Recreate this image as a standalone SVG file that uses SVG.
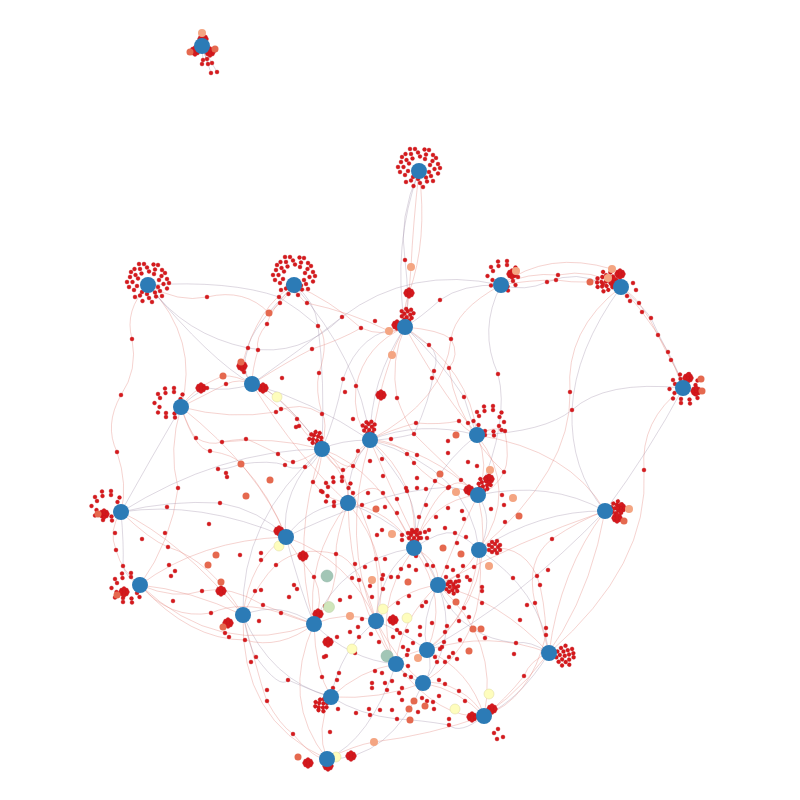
<svg xmlns="http://www.w3.org/2000/svg" xmlns:xlink="http://www.w3.org/1999/xlink" width="800" height="800" viewBox="0 0 800 800">
<style>
.e{fill:none;stroke:#e68e86;stroke-width:.65;opacity:.6}
.p{fill:none;stroke:#9a88a4;stroke-width:.65;opacity:.5}
.r circle,circle.r{fill:#d7191c;stroke:#b8161a;stroke-width:.3}
.h{fill:#2c7bb6}
.o1{fill:#e5694f}
.o2{fill:#f4a582}
.y{fill:#fefdbd;stroke:#dcd89c;stroke-width:.5}
.g1{fill:#cfe5bb;stroke:#b9cfa6;stroke-width:.5}
.g2{fill:#a2c6b6;stroke:#8fb3a3;stroke-width:.5}
</style>
<defs>
<g id="ring" class="r">
<circle cx="10" cy="4" r="2"/><circle cx="7" cy="9.5" r="2"/><circle cx="-1" cy="11" r="2"/><circle cx="-6" cy="9" r="2"/><circle cx="-11" cy="3" r="2"/><circle cx="-10" cy="-4.5" r="2"/><circle cx="-6.5" cy="-9.5" r="2"/><circle cx="1" cy="-11.5" r="2"/><circle cx="6" cy="-9" r="2"/><circle cx="11" cy="-3" r="2"/>
<circle cx="15.5" cy="1" r="2"/><circle cx="12" cy="8" r="2"/><circle cx="8" cy="13.5" r="2"/><circle cx="1" cy="15" r="2"/><circle cx="-8" cy="12.5" r="2"/><circle cx="-14" cy="7" r="2"/><circle cx="-15.5" cy="-1" r="2"/><circle cx="-12.5" cy="-8" r="2"/><circle cx="-8" cy="-14" r="2"/><circle cx="-1" cy="-15.5" r="2"/><circle cx="7" cy="-13.5" r="2"/><circle cx="13.5" cy="-7" r="2"/>
<circle cx="19" cy="5.5" r="2"/><circle cx="14" cy="13" r="2"/><circle cx="4" cy="19" r="2"/><circle cx="-5.5" cy="18" r="2"/><circle cx="-13" cy="14" r="2"/><circle cx="-19" cy="4" r="2"/><circle cx="-18" cy="-6" r="2"/><circle cx="-13.5" cy="-14" r="2"/><circle cx="-4" cy="-19" r="2"/><circle cx="5.5" cy="-18.5" r="2"/><circle cx="14" cy="-13" r="2"/><circle cx="19" cy="-4" r="2"/>
<circle cx="-9" cy="-19" r="2"/><circle cx="10" cy="-18" r="2"/><circle cx="-21" cy="-1" r="2"/><circle cx="21" cy="0" r="2"/><circle cx="-17" cy="-11" r="2"/><circle cx="17" cy="-10" r="2"/>
</g>
<g id="rs" class="r">
<circle cx="10" cy="5" r="2"/><circle cx="4.5" cy="10.5" r="2"/><circle cx="-4" cy="10" r="2"/><circle cx="-10.5" cy="4" r="2"/><circle cx="-10" cy="-5" r="2"/><circle cx="-4.5" cy="-10" r="2"/><circle cx="4" cy="-11" r="2"/><circle cx="10.5" cy="-4" r="2"/>
<circle cx="15" cy="1" r="2"/><circle cx="12.5" cy="9" r="2"/><circle cx="5" cy="14.5" r="2"/><circle cx="-4" cy="14" r="2"/><circle cx="-12" cy="9.5" r="2"/><circle cx="-15.5" cy="0" r="2"/><circle cx="-12" cy="-9" r="2"/><circle cx="-5" cy="-14.5" r="2"/><circle cx="4" cy="-15" r="2"/><circle cx="12.5" cy="-8.5" r="2"/>
</g>
<g id="fan" class="r">
<circle cx="8" cy="-3" r="2"/><circle cx="8" cy="3" r="2"/><circle cx="11" cy="-7" r="2"/><circle cx="11" cy="0" r="2"/><circle cx="11" cy="7" r="2"/><circle cx="14" cy="-4" r="2"/><circle cx="14" cy="4" r="2"/><circle cx="15" cy="-10" r="2"/><circle cx="16" cy="0" r="2"/><circle cx="15" cy="10" r="2"/><circle cx="18" cy="-6" r="2"/><circle cx="18" cy="6" r="2"/><circle cx="20" cy="-2" r="2"/><circle cx="21" cy="3" r="2"/><circle cx="22" cy="-8" r="2"/><circle cx="22" cy="8" r="2"/><circle cx="25" cy="0" r="2"/><circle cx="24" cy="-4" r="2"/>
</g>
<g id="fs" class="r">
<circle cx="7" cy="-2" r="2"/><circle cx="7" cy="3" r="2"/><circle cx="10" cy="-5" r="2"/><circle cx="10" cy="0" r="2"/><circle cx="10" cy="5" r="2"/><circle cx="13" cy="-3" r="2"/><circle cx="13" cy="3" r="2"/><circle cx="15" cy="-6" r="2"/><circle cx="16" cy="0" r="2"/><circle cx="15" cy="6" r="2"/><circle cx="18" cy="-2" r="2"/><circle cx="18" cy="3" r="2"/>
</g>
<g id="blob" class="r">
<circle cx="0" cy="0" r="2"/><circle cx="-2.5" cy="-2" r="2"/><circle cx="2.5" cy="-2" r="2"/><circle cx="-2.5" cy="2" r="2"/><circle cx="2.5" cy="2" r="2"/><circle cx="0" cy="-3.5" r="2"/><circle cx="0" cy="3.5" r="2"/><circle cx="-3.5" cy="0" r="2"/><circle cx="3.5" cy="0" r="2"/>
</g>
</defs>
<rect width="800" height="800" fill="#ffffff"/>
<g id="connectors">
<path class="p" d="M202 46L203 60M202 46L208 64M202 46L211 73M202 46L217 72"/>
<path class="p" d="M419 171Q398 218 405 260Q410 300 405 327"/>
<path class="e" d="M419 171Q413 225 411 267Q409 300 405 327"/>
<path class="e" d="M419 171Q428 240 409 293Q402 312 405 327"/>
<path class="p" d="M419 171Q392 245 405 327"/>
<path class="e" d="M148 285Q124 310 132 339Q138 370 121 395Q104 425 117 452Q128 485 121 512"/>
<path class="e" d="M121 512Q108 530 116 550Q122 572 140 585"/>
<path class="p" d="M121 512Q124 545 123 566Q126 578 140 585"/>
<path class="e" d="M148 285Q178 303 207 297Q245 288 269 313Q285 300 294 285"/>
<path class="p" d="M148 285Q185 335 248 348Q300 358 342 317"/>
<path class="e" d="M294 285Q270 310 267 324Q255 338 258 350Q252 370 252 384"/>
<path class="p" d="M294 285Q315 300 318 326Q325 380 322 449"/>
<path class="e" d="M294 285Q330 300 361 328Q383 338 405 327"/>
<path class="e" d="M294 285Q300 300 307 303Q350 312 389 331Q398 332 405 327"/>
<path class="e" d="M501 285Q528 272 558 275Q592 268 621 287"/>
<path class="p" d="M501 285Q525 292 547 282Q578 270 603 284Q612 288 621 287"/>
<path class="e" d="M501 285Q548 250 612 269Q620 276 621 287"/>
<path class="e" d="M501 285Q530 280 556 280Q588 285 608 278Q616 280 621 287"/>
<path class="e" d="M621 287Q634 296 639 303Q650 318 658 335Q665 350 671 360Q680 374 683 388"/>
<path class="p" d="M621 287Q644 308 651 318Q662 342 668 352Q679 372 683 388"/>
<path class="e" d="M621 287Q638 306 642 312Q668 345 683 388"/>
<path class="p" d="M501 285Q462 284 440 300Q420 318 405 327"/>
<path class="p" d="M501 285Q410 265 342 317Q300 350 252 384"/>
<path class="p" d="M501 285Q478 330 498 374Q510 420 478 495"/>
<path class="e" d="M621 287Q565 330 570 392Q572 470 479 550"/>
<path class="p" d="M683 388Q605 380 572 410Q545 432 477 435"/>
<path class="e" d="M683 388Q640 420 644 470Q650 565 549 653"/>
<path class="e" d="M252 384Q236 375 223 376Q208 382 200 388Q188 396 181 407"/>
<path class="p" d="M252 384Q228 392 207 388Q192 395 181 407"/>
<path class="e" d="M252 384Q240 378 226 384Q205 395 181 407"/>
<path class="e" d="M252 384Q265 388 277 397Q300 418 322 449"/>
<path class="p" d="M252 384Q258 386 263 387Q295 410 322 449"/>
<path class="e" d="M181 407Q190 432 196 438Q210 446 222 442Q272 436 322 449"/>
<path class="e" d="M181 407Q195 450 210 451Q235 455 241 464Q270 495 286 537"/>
<path class="p" d="M181 407Q150 460 121 512"/>
<path class="e" d="M181 407Q168 450 178 488Q172 540 140 585"/>
<path class="p" d="M294 285Q250 330 248 348Q240 370 252 384"/>
<path class="e" d="M294 285Q258 305 242 365Q245 375 252 384"/>
<path class="e" d="M405 327Q440 330 451 339Q460 355 449 368Q455 410 477 435"/>
<path class="p" d="M405 327Q420 340 429 345Q440 355 434 371Q430 400 414 434Q390 440 370 440"/>
<path class="e" d="M405 327Q395 345 392 355Q380 390 381 394Q376 420 370 440"/>
<path class="p" d="M405 327Q360 330 343 379Q335 420 322 449"/>
<path class="e" d="M405 327Q365 345 356 386Q352 420 370 440"/>
<path class="e" d="M405 327Q390 360 397 398Q405 420 414 434Q440 460 478 495"/>
<path class="p" d="M405 327Q440 360 464 397Q470 418 477 435"/>
<path class="e" d="M477 435Q495 425 505 431Q510 460 504 472Q495 490 478 495"/>
<path class="e" d="M477 435Q465 430 459 421Q440 425 416 423Q390 430 370 440"/>
<path class="p" d="M370 440Q340 440 322 449"/>
<path class="e" d="M370 440Q348 470 343 470Q330 465 322 449"/>
<path class="e" d="M322 449Q300 430 297 419Q285 405 281 409Q270 400 252 384"/>
<path class="e" d="M322 449Q328 420 322 414Q315 390 319 373Q330 340 318 326"/>
<path class="e" d="M322 449Q300 462 293 462Q285 463 278 454Q250 440 246 439Q230 440 222 442"/>
<path class="p" d="M322 449Q310 470 305 467Q290 470 285 465Q270 460 241 464Q225 470 218 469"/>
<path class="e" d="M322 449Q320 475 313 482Q318 488 321 491Q330 500 348 503"/>
<path class="e" d="M322 449Q345 470 353 466Q355 460 358 451Q365 445 370 440"/>
<path class="e" d="M370 440Q430 450 478 495"/>
<path class="p" d="M370 440Q345 470 348 503"/>
<path class="e" d="M370 440Q420 480 414 548"/>
<path class="p" d="M370 440Q470 470 479 550"/>
<path class="e" d="M370 440Q400 510 438 585"/>
<path class="e" d="M370 440Q340 540 376 621"/>
<path class="e" d="M322 449Q350 470 348 503"/>
<path class="p" d="M322 449Q280 490 286 537"/>
<path class="e" d="M322 449Q380 470 414 548"/>
<path class="e" d="M322 449Q290 540 314 624"/>
<path class="p" d="M322 449Q240 520 243 615"/>
<path class="e" d="M322 449Q390 530 376 621"/>
<path class="e" d="M478 495Q430 500 414 548"/>
<path class="p" d="M478 495Q495 520 479 550"/>
<path class="e" d="M478 495Q455 540 438 585"/>
<path class="p" d="M478 495Q550 480 605 511"/>
<path class="e" d="M478 495Q500 590 427 650"/>
<path class="e" d="M348 503Q390 510 414 548"/>
<path class="p" d="M348 503Q310 505 286 537"/>
<path class="e" d="M348 503Q395 560 376 621"/>
<path class="e" d="M348 503Q305 560 314 624"/>
<path class="p" d="M348 503Q420 530 438 585"/>
<path class="e" d="M348 503Q350 600 396 664"/>
<path class="p" d="M605 511Q540 510 479 550"/>
<path class="e" d="M605 511Q520 540 438 585"/>
<path class="e" d="M605 511Q560 570 549 653"/>
<path class="p" d="M605 511Q520 600 427 650"/>
<path class="e" d="M605 511Q580 650 484 716"/>
<path class="e" d="M286 537Q250 560 243 615"/>
<path class="p" d="M286 537Q300 590 314 624"/>
<path class="e" d="M286 537Q200 540 140 585"/>
<path class="p" d="M286 537Q200 500 121 512"/>
<path class="e" d="M286 537Q350 560 376 621"/>
<path class="e" d="M414 548Q440 560 438 585"/>
<path class="p" d="M414 548Q380 570 376 621"/>
<path class="e" d="M414 548Q450 600 427 650"/>
<path class="e" d="M414 548Q370 610 396 664"/>
<path class="p" d="M414 548Q340 560 314 624"/>
<path class="e" d="M479 550Q460 580 438 585"/>
<path class="p" d="M479 550Q540 590 549 653"/>
<path class="e" d="M479 550Q470 620 427 650"/>
<path class="e" d="M479 550Q490 640 423 683"/>
<path class="p" d="M438 585Q420 620 427 650"/>
<path class="e" d="M438 585Q400 590 376 621"/>
<path class="e" d="M438 585Q400 620 396 664"/>
<path class="p" d="M438 585Q460 640 423 683"/>
<path class="e" d="M438 585Q500 640 484 716"/>
<path class="e" d="M438 585Q500 600 549 653"/>
<path class="p" d="M243 615Q280 600 314 624"/>
<path class="e" d="M243 615Q190 590 140 585"/>
<path class="e" d="M243 615Q180 540 121 512"/>
<path class="p" d="M243 615Q270 680 331 697"/>
<path class="e" d="M243 615Q240 720 327 759"/>
<path class="e" d="M243 615Q262 690 267 701Q280 725 293 734Q315 760 327 759"/>
<path class="e" d="M314 624Q345 610 376 621"/>
<path class="p" d="M314 624Q350 660 396 664"/>
<path class="e" d="M314 624Q315 670 331 697"/>
<path class="e" d="M314 624Q280 700 327 759"/>
<path class="p" d="M376 621Q400 630 427 650"/>
<path class="e" d="M376 621Q385 645 396 664"/>
<path class="e" d="M376 621Q400 665 423 683"/>
<path class="p" d="M376 621Q340 650 331 697"/>
<path class="e" d="M427 650Q410 650 396 664"/>
<path class="p" d="M427 650Q435 670 423 683"/>
<path class="e" d="M427 650Q490 630 549 653"/>
<path class="e" d="M427 650Q470 670 484 716"/>
<path class="p" d="M396 664Q410 680 423 683"/>
<path class="e" d="M396 664Q360 670 331 697"/>
<path class="e" d="M396 664Q440 720 484 716"/>
<path class="p" d="M396 664Q370 740 327 759"/>
<path class="e" d="M423 683Q460 690 484 716"/>
<path class="e" d="M423 683Q380 700 331 697"/>
<path class="p" d="M423 683Q390 760 327 759"/>
<path class="e" d="M331 697Q315 730 327 759"/>
<path class="p" d="M549 653Q520 700 484 716"/>
<path class="e" d="M140 585Q220 660 314 624"/>
<path class="p" d="M121 512Q220 450 322 449"/>
<path class="e" d="M181 407Q260 470 286 537"/>
<path class="p" d="M252 384Q310 400 370 440"/>
<path class="e" d="M252 384Q300 460 348 503"/>
<path class="p" d="M405 327Q370 380 370 440"/>
<path class="e" d="M405 327Q470 370 477 435"/>
<path class="p" d="M477 435Q420 420 370 440"/>
<path class="e" d="M477 435Q490 465 478 495"/>
<path class="e" d="M477 435Q520 490 479 550"/>
<path class="p" d="M477 435Q420 480 414 548"/>
<path class="e" d="M477 435Q570 450 605 511"/>
<path class="p" d="M294 285Q360 360 370 440"/>
<path class="e" d="M148 285Q200 340 181 407"/>
<path class="p" d="M148 285Q210 360 252 384"/>
<path class="e" d="M501 285Q455 310 451 339Q445 400 370 440"/>
<path class="p" d="M621 287Q575 350 572 410Q570 470 605 511"/>
<path class="p" d="M683 388Q650 450 605 511"/>
<path class="e" d="M327 759Q355 745 374 742Q430 735 484 716"/>
<path class="e" d="M121 512Q150 540 168 547Q210 560 243 615"/>
<path class="p" d="M121 512Q170 500 220 503Q260 510 286 537"/>
<path class="e" d="M140 585Q175 600 202 591Q230 585 263 605Q290 615 314 624"/>
<path class="e" d="M140 585Q170 620 211 613Q240 600 281 613Q300 620 314 624"/>
<path class="p" d="M243 615Q250 650 256 657Q280 690 288 680Q310 690 331 697"/>
<path class="e" d="M484 716Q530 700 546 635Q545 600 537 576Q520 540 479 550"/>
<path class="e" d="M549 653Q540 620 535 603Q525 560 552 539Q580 520 605 511"/>
<path class="p" d="M484 716Q460 735 449 725Q420 720 397 719Q360 715 331 697"/>
<path class="e" d="M484 716Q475 700 459 691Q440 680 423 683"/>
<path class="e" d="M549 653Q530 660 524 676Q505 700 484 716"/>
<path class="p" d="M549 653Q530 640 516 643Q490 640 473 629Q450 615 438 585"/>
<path class="e" d="M286 537Q300 560 314 577Q325 600 314 624"/>
<path class="e" d="M348 503Q335 540 336 554Q340 590 314 624"/>
<path class="p" d="M414 548Q440 530 455 533Q470 540 479 550"/>
<path class="e" d="M414 548Q395 510 383 493Q370 480 348 503"/>
<path class="e" d="M478 495Q460 475 448 488Q430 500 414 548"/>
<path class="p" d="M370 440Q395 470 407 491Q420 520 414 548"/>
<path class="e" d="M140 585Q190 640 245 640Q280 650 314 624"/>
<path class="e" d="M243 615Q260 580 276 565Q300 545 336 554Q360 560 376 621"/>
<path class="p" d="M286 537Q320 520 362 505Q400 490 449 487Q470 490 478 495"/>
<path class="e" d="M181 407Q230 420 276 412Q300 400 322 414"/>
<path class="e" d="M252 384Q290 360 312 349Q340 340 361 328"/>
<path class="p" d="M148 285Q230 280 279 297Q300 310 318 326"/>
<path class="e" d="M405 327Q440 390 468 423Q480 450 504 472"/>
<path class="e" d="M370 440Q400 440 414 463Q430 480 448 488"/>
</g>
<g id="leaves">
<use href="#blob" x="203" y="39"/><use href="#blob" x="195" y="51"/><use href="#blob" x="210" y="52"/>
<g class="r"><circle cx="203" cy="60" r="2"/><circle cx="207" cy="59" r="2"/><circle cx="202" cy="64" r="2"/><circle cx="208" cy="64" r="2"/><circle cx="212" cy="63" r="2"/><circle cx="211" cy="73" r="2"/><circle cx="217" cy="72" r="2"/></g>
<use href="#ring" x="419" y="168"/>
<use href="#ring" x="148" y="283"/>
<use href="#ring" x="294" y="276"/>
<use href="#rs" x="503" y="276"/><use href="#blob" x="512" y="274"/>
<use href="#fan" transform="translate(621 287) rotate(200)"/><use href="#blob" x="614" y="282"/><use href="#blob" x="620" y="274"/>
<g class="r"><circle cx="633" cy="283" r="2"/><circle cx="636" cy="290" r="2"/><circle cx="627" cy="296" r="2"/><circle cx="630" cy="301" r="2"/></g>
<use href="#fs" transform="translate(405 327) rotate(-80)"/><use href="#blob" x="397" y="325"/>
<use href="#rs" x="685" y="389"/><use href="#blob" x="696" y="391"/><use href="#blob" x="688" y="378"/>
<use href="#blob" x="242" y="366"/><use href="#blob" x="263" y="388"/><use href="#blob" x="201" y="388"/>
<use href="#rs" x="170" y="403"/>
<use href="#rs" x="489" y="421"/>
<use href="#fs" transform="translate(370 440) rotate(-95)"/>
<use href="#fs" transform="translate(322 449) rotate(-120)"/>
<use href="#fs" transform="translate(478 495) rotate(-60)"/><use href="#blob" x="469" y="490"/>
<use href="#rs" x="338" y="492"/>
<use href="#fs" transform="translate(605 511) rotate(-15)"/><use href="#blob" x="621" y="508"/><use href="#blob" x="617" y="518"/>
<use href="#rs" x="107" y="506"/><use href="#blob" x="104" y="514"/>
<use href="#blob" x="279" y="531"/>
<use href="#fs" transform="translate(414 548) rotate(-90)"/>
<use href="#fs" transform="translate(482 547)"/>
<use href="#rs" x="127" y="588"/><use href="#blob" x="124" y="592"/>
<use href="#fs" transform="translate(440 585) rotate(10)"/>
<use href="#blob" x="228" y="623"/>
<use href="#blob" x="318" y="614"/>
<use href="#blob" x="393" y="620"/>
<use href="#fan" transform="translate(549 653) rotate(10)"/>
<use href="#fs" transform="translate(331 697) rotate(140)"/>
<use href="#blob" x="472" y="717"/><use href="#blob" x="492" y="709"/>
<use href="#blob" x="308" y="763"/><use href="#blob" x="328" y="766"/>
<use href="#blob" x="221" y="591"/><use href="#blob" x="303" y="556"/><use href="#blob" x="328" y="642"/><use href="#blob" x="409" y="293"/><use href="#blob" x="489" y="479"/><use href="#blob" x="351" y="756"/><use href="#blob" x="381" y="395"/>
</g>
<g id="nodes" class="r">
<circle cx="207" cy="297" r="2"/><circle cx="267" cy="324" r="2"/><circle cx="279" cy="297" r="2"/><circle cx="280" cy="303" r="2"/><circle cx="307" cy="303" r="2"/><circle cx="318" cy="326" r="2"/><circle cx="132" cy="339" r="2"/><circle cx="248" cy="348" r="2"/><circle cx="258" cy="350" r="2"/><circle cx="312" cy="349" r="2"/><circle cx="319" cy="373" r="2"/><circle cx="282" cy="378" r="2"/><circle cx="244" cy="372" r="2"/><circle cx="226" cy="384" r="2"/><circle cx="207" cy="388" r="2"/><circle cx="121" cy="395" r="2"/><circle cx="276" cy="412" r="2"/><circle cx="281" cy="409" r="2"/><circle cx="322" cy="414" r="2"/><circle cx="297" cy="419" r="2"/><circle cx="299" cy="426" r="2"/><circle cx="296" cy="427" r="2"/><circle cx="196" cy="438" r="2"/><circle cx="222" cy="442" r="2"/><circle cx="246" cy="439" r="2"/><circle cx="117" cy="452" r="2"/><circle cx="210" cy="451" r="2"/><circle cx="278" cy="454" r="2"/><circle cx="285" cy="465" r="2"/><circle cx="293" cy="462" r="2"/><circle cx="305" cy="467" r="2"/><circle cx="218" cy="469" r="2"/><circle cx="226" cy="473" r="2"/><circle cx="227" cy="477" r="2"/><circle cx="313" cy="482" r="2"/><circle cx="321" cy="491" r="2"/><circle cx="178" cy="488" r="2"/>
<circle cx="405" cy="260" r="2"/><circle cx="440" cy="300" r="2"/><circle cx="342" cy="317" r="2"/><circle cx="375" cy="321" r="2"/><circle cx="361" cy="328" r="2"/><circle cx="451" cy="339" r="2"/><circle cx="429" cy="345" r="2"/><circle cx="449" cy="368" r="2"/><circle cx="434" cy="371" r="2"/><circle cx="432" cy="378" r="2"/><circle cx="498" cy="374" r="2"/><circle cx="343" cy="379" r="2"/><circle cx="356" cy="386" r="2"/><circle cx="345" cy="392" r="2"/><circle cx="397" cy="398" r="2"/><circle cx="464" cy="397" r="2"/><circle cx="570" cy="392" r="2"/><circle cx="572" cy="410" r="2"/><circle cx="353" cy="419" r="2"/><circle cx="416" cy="423" r="2"/><circle cx="459" cy="421" r="2"/><circle cx="468" cy="423" r="2"/><circle cx="505" cy="431" r="2"/><circle cx="414" cy="434" r="2"/><circle cx="391" cy="439" r="2"/><circle cx="448" cy="441" r="2"/><circle cx="407" cy="454" r="2"/><circle cx="417" cy="455" r="2"/><circle cx="448" cy="453" r="2"/><circle cx="358" cy="451" r="2"/><circle cx="382" cy="459" r="2"/><circle cx="370" cy="461" r="2"/><circle cx="468" cy="462" r="2"/><circle cx="477" cy="466" r="2"/><circle cx="414" cy="463" r="2"/><circle cx="504" cy="472" r="2"/><circle cx="461" cy="480" r="2"/><circle cx="435" cy="481" r="2"/><circle cx="417" cy="478" r="2"/><circle cx="448" cy="488" r="2"/><circle cx="383" cy="476" r="2"/><circle cx="406" cy="488" r="2"/><circle cx="417" cy="488" r="2"/><circle cx="343" cy="470" r="2"/><circle cx="353" cy="466" r="2"/>
<circle cx="558" cy="275" r="2"/><circle cx="556" cy="280" r="2"/><circle cx="547" cy="282" r="2"/><circle cx="603" cy="284" r="2"/><circle cx="639" cy="303" r="2"/><circle cx="642" cy="312" r="2"/><circle cx="651" cy="318" r="2"/><circle cx="658" cy="335" r="2"/><circle cx="668" cy="352" r="2"/><circle cx="671" cy="360" r="2"/><circle cx="644" cy="470" r="2"/><circle cx="552" cy="539" r="2"/>
<circle cx="167" cy="507" r="2"/><circle cx="220" cy="503" r="2"/><circle cx="209" cy="524" r="2"/><circle cx="142" cy="539" r="2"/><circle cx="165" cy="533" r="2"/><circle cx="115" cy="533" r="2"/><circle cx="116" cy="550" r="2"/><circle cx="168" cy="547" r="2"/><circle cx="240" cy="555" r="2"/><circle cx="261" cy="560" r="2"/><circle cx="276" cy="565" r="2"/><circle cx="123" cy="566" r="2"/><circle cx="169" cy="565" r="2"/><circle cx="175" cy="571" r="2"/><circle cx="171" cy="576" r="2"/><circle cx="202" cy="591" r="2"/><circle cx="173" cy="601" r="2"/><circle cx="211" cy="613" r="2"/><circle cx="261" cy="553" r="2"/><circle cx="314" cy="577" r="2"/><circle cx="294" cy="585" r="2"/><circle cx="297" cy="589" r="2"/><circle cx="289" cy="597" r="2"/><circle cx="281" cy="613" r="2"/><circle cx="263" cy="605" r="2"/><circle cx="255" cy="591" r="2"/><circle cx="261" cy="590" r="2"/><circle cx="259" cy="621" r="2"/><circle cx="245" cy="640" r="2"/><circle cx="256" cy="657" r="2"/><circle cx="251" cy="662" r="2"/><circle cx="288" cy="680" r="2"/><circle cx="267" cy="690" r="2"/><circle cx="267" cy="701" r="2"/><circle cx="293" cy="734" r="2"/><circle cx="326" cy="656" r="2"/><circle cx="330" cy="732" r="2"/><circle cx="225" cy="633" r="2"/><circle cx="229" cy="637" r="2"/>
<circle cx="368" cy="493" r="2"/><circle cx="383" cy="493" r="2"/><circle cx="407" cy="491" r="2"/><circle cx="426" cy="489" r="2"/><circle cx="449" cy="487" r="2"/><circle cx="397" cy="499" r="2"/><circle cx="362" cy="505" r="2"/><circle cx="385" cy="507" r="2"/><circle cx="426" cy="505" r="2"/><circle cx="448" cy="508" r="2"/><circle cx="462" cy="511" r="2"/><circle cx="502" cy="495" r="2"/><circle cx="504" cy="505" r="2"/><circle cx="369" cy="517" r="2"/><circle cx="397" cy="513" r="2"/><circle cx="419" cy="517" r="2"/><circle cx="436" cy="517" r="2"/><circle cx="464" cy="519" r="2"/><circle cx="491" cy="509" r="2"/><circle cx="505" cy="522" r="2"/><circle cx="336" cy="554" r="2"/><circle cx="376" cy="559" r="2"/><circle cx="402" cy="540" r="2"/><circle cx="427" cy="538" r="2"/><circle cx="429" cy="530" r="2"/><circle cx="445" cy="528" r="2"/><circle cx="455" cy="533" r="2"/><circle cx="466" cy="537" r="2"/><circle cx="457" cy="543" r="2"/><circle cx="427" cy="565" r="2"/><circle cx="433" cy="566" r="2"/><circle cx="416" cy="570" r="2"/><circle cx="398" cy="577" r="2"/><circle cx="383" cy="575" r="2"/><circle cx="370" cy="586" r="2"/><circle cx="409" cy="596" r="2"/><circle cx="422" cy="606" r="2"/><circle cx="426" cy="602" r="2"/><circle cx="454" cy="587" r="2"/><circle cx="459" cy="581" r="2"/><circle cx="467" cy="577" r="2"/><circle cx="482" cy="591" r="2"/><circle cx="513" cy="578" r="2"/><circle cx="537" cy="576" r="2"/><circle cx="540" cy="585" r="2"/><circle cx="548" cy="570" r="2"/><circle cx="535" cy="603" r="2"/><circle cx="546" cy="628" r="2"/><circle cx="546" cy="635" r="2"/><circle cx="514" cy="654" r="2"/><circle cx="524" cy="676" r="2"/><circle cx="516" cy="643" r="2"/><circle cx="485" cy="638" r="2"/><circle cx="464" cy="608" r="2"/><circle cx="449" cy="607" r="2"/><circle cx="432" cy="623" r="2"/><circle cx="447" cy="626" r="2"/><circle cx="459" cy="621" r="2"/><circle cx="460" cy="640" r="2"/><circle cx="453" cy="653" r="2"/><circle cx="449" cy="657" r="2"/><circle cx="457" cy="659" r="2"/><circle cx="445" cy="662" r="2"/><circle cx="440" cy="649" r="2"/><circle cx="435" cy="657" r="2"/><circle cx="437" cy="662" r="2"/><circle cx="444" cy="642" r="2"/><circle cx="420" cy="635" r="2"/><circle cx="413" cy="643" r="2"/><circle cx="403" cy="647" r="2"/><circle cx="407" cy="655" r="2"/><circle cx="376" cy="627" r="2"/><circle cx="371" cy="634" r="2"/><circle cx="362" cy="619" r="2"/><circle cx="350" cy="632" r="2"/><circle cx="337" cy="637" r="2"/><circle cx="359" cy="637" r="2"/><circle cx="379" cy="642" r="2"/><circle cx="393" cy="637" r="2"/><circle cx="397" cy="630" r="2"/><circle cx="407" cy="631" r="2"/><circle cx="408" cy="666" r="2"/><circle cx="411" cy="677" r="2"/><circle cx="405" cy="675" r="2"/><circle cx="382" cy="673" r="2"/><circle cx="375" cy="671" r="2"/><circle cx="372" cy="683" r="2"/><circle cx="372" cy="688" r="2"/><circle cx="385" cy="683" r="2"/><circle cx="387" cy="690" r="2"/><circle cx="392" cy="681" r="2"/><circle cx="399" cy="693" r="2"/><circle cx="402" cy="700" r="2"/><circle cx="420" cy="688" r="2"/><circle cx="422" cy="698" r="2"/><circle cx="427" cy="701" r="2"/><circle cx="433" cy="702" r="2"/><circle cx="439" cy="696" r="2"/><circle cx="439" cy="680" r="2"/><circle cx="445" cy="684" r="2"/><circle cx="459" cy="691" r="2"/><circle cx="465" cy="701" r="2"/><circle cx="449" cy="719" r="2"/><circle cx="449" cy="725" r="2"/><circle cx="494" cy="733" r="2"/><circle cx="498" cy="729" r="2"/><circle cx="497" cy="739" r="2"/><circle cx="503" cy="737" r="2"/><circle cx="408" cy="650" r="2"/><circle cx="434" cy="709" r="2"/><circle cx="397" cy="719" r="2"/><circle cx="392" cy="710" r="2"/><circle cx="380" cy="710" r="2"/><circle cx="369" cy="709" r="2"/><circle cx="370" cy="715" r="2"/><circle cx="356" cy="713" r="2"/><circle cx="339" cy="673" r="2"/><circle cx="337" cy="680" r="2"/><circle cx="333" cy="688" r="2"/><circle cx="324" cy="657" r="2"/><circle cx="322" cy="677" r="2"/><circle cx="355" cy="653" r="2"/><circle cx="338" cy="709" r="2"/><circle cx="358" cy="627" r="2"/><circle cx="325" cy="606" r="2"/><circle cx="340" cy="600" r="2"/><circle cx="350" cy="597" r="2"/><circle cx="372" cy="597" r="2"/><circle cx="383" cy="589" r="2"/><circle cx="398" cy="603" r="2"/><circle cx="400" cy="633" r="2"/><circle cx="420" cy="627" r="2"/><circle cx="382" cy="530" r="2"/><circle cx="377" cy="535" r="2"/><circle cx="402" cy="535" r="2"/><circle cx="411" cy="533" r="2"/><circle cx="421" cy="538" r="2"/><circle cx="416" cy="532" r="2"/><circle cx="425" cy="532" r="2"/><circle cx="416" cy="556" r="2"/><circle cx="385" cy="559" r="2"/><circle cx="365" cy="567" r="2"/><circle cx="355" cy="564" r="2"/><circle cx="352" cy="578" r="2"/><circle cx="359" cy="580" r="2"/><circle cx="382" cy="579" r="2"/><circle cx="391" cy="577" r="2"/><circle cx="401" cy="569" r="2"/><circle cx="409" cy="566" r="2"/><circle cx="447" cy="567" r="2"/><circle cx="446" cy="577" r="2"/><circle cx="433" cy="587" r="2"/><circle cx="449" cy="582" r="2"/><circle cx="453" cy="570" r="2"/><circle cx="463" cy="566" r="2"/><circle cx="474" cy="567" r="2"/><circle cx="470" cy="580" r="2"/><circle cx="458" cy="576" r="2"/><circle cx="482" cy="587" r="2"/><circle cx="482" cy="603" r="2"/><circle cx="469" cy="617" r="2"/><circle cx="445" cy="632" r="2"/><circle cx="442" cy="647" r="2"/><circle cx="527" cy="605" r="2"/><circle cx="520" cy="620" r="2"/><circle cx="402" cy="688" r="2"/><circle cx="418" cy="712" r="2"/>
</g>
<g id="mid-nodes">
<g class="o1"><circle cx="269" cy="313" r="3.5"/><circle cx="223" cy="376" r="3.5"/><circle cx="241" cy="362" r="3.5"/><circle cx="241" cy="464" r="3.5"/><circle cx="270" cy="480" r="3.5"/><circle cx="246" cy="496" r="3.5"/><circle cx="456" cy="435" r="3.5"/><circle cx="440" cy="474" r="3.5"/><circle cx="590" cy="282" r="3.5"/><circle cx="624" cy="521" r="3.5"/><circle cx="701" cy="379" r="3.5"/><circle cx="702" cy="391" r="3.5"/><circle cx="216" cy="555" r="3.5"/><circle cx="208" cy="565" r="3.5"/><circle cx="221" cy="582" r="3.5"/><circle cx="117" cy="595" r="3.5"/><circle cx="223" cy="627" r="3.5"/><circle cx="298" cy="757" r="3.5"/><circle cx="376" cy="509" r="3.5"/><circle cx="443" cy="548" r="3.5"/><circle cx="461" cy="554" r="3.5"/><circle cx="408" cy="582" r="3.5"/><circle cx="456" cy="602" r="3.5"/><circle cx="473" cy="629" r="3.5"/><circle cx="481" cy="629" r="3.5"/><circle cx="469" cy="651" r="3.5"/><circle cx="519" cy="516" r="3.5"/><circle cx="414" cy="701" r="3.5"/><circle cx="410" cy="720" r="3.5"/><circle cx="425" cy="706" r="3.5"/><circle cx="409" cy="709" r="3.5"/><circle cx="190" cy="52" r="3.5"/><circle cx="215" cy="49" r="3.5"/><circle cx="98" cy="514" r="3.5"/></g>
<g class="o2"><circle cx="411" cy="267" r="4"/><circle cx="389" cy="331" r="4"/><circle cx="392" cy="355" r="4"/><circle cx="490" cy="470" r="4"/><circle cx="456" cy="492" r="4"/><circle cx="513" cy="498" r="4"/><circle cx="612" cy="269" r="4"/><circle cx="608" cy="278" r="4"/><circle cx="629" cy="509" r="4"/><circle cx="392" cy="534" r="4"/><circle cx="489" cy="566" r="4"/><circle cx="372" cy="580" r="4"/><circle cx="350" cy="616" r="4"/><circle cx="418" cy="658" r="4"/><circle cx="374" cy="742" r="4"/><circle cx="202" cy="33" r="4"/><circle cx="516" cy="271" r="4"/></g>
<g class="y"><circle cx="277" cy="397" r="5"/><circle cx="279" cy="546" r="5"/><circle cx="383" cy="609" r="5"/><circle cx="407" cy="618" r="5"/><circle cx="352" cy="649" r="5"/><circle cx="489" cy="694" r="5"/><circle cx="455" cy="709" r="5"/><circle cx="336" cy="757" r="5"/></g>
<circle class="g1" cx="329" cy="607" r="5.5"/>
<circle class="g2" cx="327" cy="576" r="6"/>
<circle class="g2" cx="387" cy="656" r="6"/>
</g>
<g id="hub-1"><circle class="h" cx="202" cy="46" r="8"/></g>
<g id="hub-2"><circle class="h" cx="419" cy="171" r="8"/></g>
<g id="hub-3"><circle class="h" cx="148" cy="285" r="8"/></g>
<g id="hub-4"><circle class="h" cx="294" cy="285" r="8"/></g>
<g id="hub-5"><circle class="h" cx="501" cy="285" r="8"/></g>
<g id="hub-6"><circle class="h" cx="621" cy="287" r="8"/></g>
<g id="hub-7"><circle class="h" cx="405" cy="327" r="8"/></g>
<g id="hub-8"><circle class="h" cx="683" cy="388" r="8"/></g>
<g id="hub-9"><circle class="h" cx="252" cy="384" r="8"/></g>
<g id="hub-10"><circle class="h" cx="181" cy="407" r="8"/></g>
<g id="hub-11"><circle class="h" cx="477" cy="435" r="8"/></g>
<g id="hub-12"><circle class="h" cx="370" cy="440" r="8"/></g>
<g id="hub-13"><circle class="h" cx="322" cy="449" r="8"/></g>
<g id="hub-14"><circle class="h" cx="478" cy="495" r="8"/></g>
<g id="hub-15"><circle class="h" cx="348" cy="503" r="8"/></g>
<g id="hub-16"><circle class="h" cx="605" cy="511" r="8"/></g>
<g id="hub-17"><circle class="h" cx="121" cy="512" r="8"/></g>
<g id="hub-18"><circle class="h" cx="286" cy="537" r="8"/></g>
<g id="hub-19"><circle class="h" cx="414" cy="548" r="8"/></g>
<g id="hub-20"><circle class="h" cx="479" cy="550" r="8"/></g>
<g id="hub-21"><circle class="h" cx="140" cy="585" r="8"/></g>
<g id="hub-22"><circle class="h" cx="438" cy="585" r="8"/></g>
<g id="hub-23"><circle class="h" cx="243" cy="615" r="8"/></g>
<g id="hub-24"><circle class="h" cx="314" cy="624" r="8"/></g>
<g id="hub-25"><circle class="h" cx="376" cy="621" r="8"/></g>
<g id="hub-26"><circle class="h" cx="427" cy="650" r="8"/></g>
<g id="hub-27"><circle class="h" cx="549" cy="653" r="8"/></g>
<g id="hub-28"><circle class="h" cx="396" cy="664" r="8"/></g>
<g id="hub-29"><circle class="h" cx="423" cy="683" r="8"/></g>
<g id="hub-30"><circle class="h" cx="331" cy="697" r="8"/></g>
<g id="hub-31"><circle class="h" cx="484" cy="716" r="8"/></g>
<g id="hub-32"><circle class="h" cx="327" cy="759" r="8"/></g>
</svg>
